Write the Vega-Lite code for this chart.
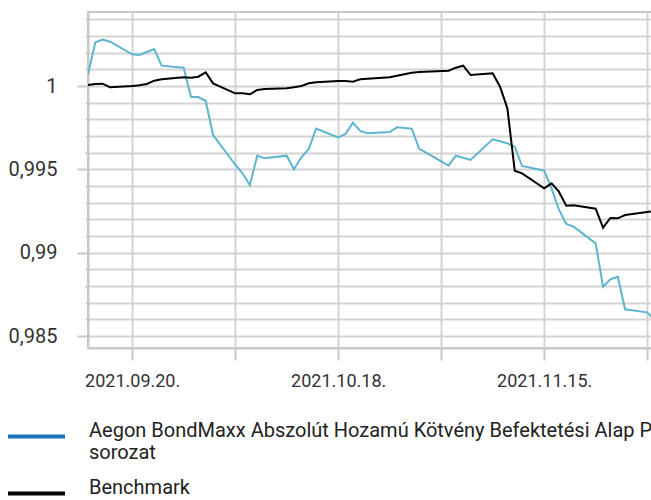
{
  "$schema": "https://vega.github.io/schema/vega-lite/v6.json",
  "width": 565,
  "height": 336,
  "autosize": {"type": "none"},
  "padding": {"left": 88, "top": 12, "right": 0, "bottom": 152},
  "background": "white",
  "config": {
    "view": {"stroke": "#c8c8c8", "strokeWidth": 2},
    "font": "Roboto"
  },
  "data": {
    "values": [
      {"date": "2021-09-14", "fund": 1.0007, "benchmark": 1.00006},
      {"date": "2021-09-15", "fund": 1.00262, "benchmark": 1.00012},
      {"date": "2021-09-16", "fund": 1.00278, "benchmark": 1.00014},
      {"date": "2021-09-17", "fund": 1.00266, "benchmark": 0.99992},
      {"date": "2021-09-20", "fund": 1.0019, "benchmark": 1.0},
      {"date": "2021-09-21", "fund": 1.00186, "benchmark": 1.00004},
      {"date": "2021-09-22", "fund": 1.00204, "benchmark": 1.00012},
      {"date": "2021-09-23", "fund": 1.00222, "benchmark": 1.00032},
      {"date": "2021-09-24", "fund": 1.00122, "benchmark": 1.0004},
      {"date": "2021-09-27", "fund": 1.0011, "benchmark": 1.00052},
      {"date": "2021-09-28", "fund": 0.99934, "benchmark": 1.0005},
      {"date": "2021-09-29", "fund": 0.99934, "benchmark": 1.00056},
      {"date": "2021-09-30", "fund": 0.9991, "benchmark": 1.00082},
      {"date": "2021-10-01", "fund": 0.99706, "benchmark": 1.00016},
      {"date": "2021-10-04", "fund": 0.99529, "benchmark": 0.99956},
      {"date": "2021-10-05", "fund": 0.99476, "benchmark": 0.99956},
      {"date": "2021-10-06", "fund": 0.99406, "benchmark": 0.9995},
      {"date": "2021-10-07", "fund": 0.99582, "benchmark": 0.99976},
      {"date": "2021-10-08", "fund": 0.99566, "benchmark": 0.99982},
      {"date": "2021-10-11", "fund": 0.99582, "benchmark": 0.99986},
      {"date": "2021-10-12", "fund": 0.995, "benchmark": 0.99993},
      {"date": "2021-10-13", "fund": 0.99572, "benchmark": 1.0},
      {"date": "2021-10-14", "fund": 0.99622, "benchmark": 1.00016},
      {"date": "2021-10-15", "fund": 0.99744, "benchmark": 1.00022},
      {"date": "2021-10-18", "fund": 0.99692, "benchmark": 1.0003},
      {"date": "2021-10-19", "fund": 0.99712, "benchmark": 1.0003},
      {"date": "2021-10-20", "fund": 0.9978, "benchmark": 1.00026},
      {"date": "2021-10-21", "fund": 0.9973, "benchmark": 1.0004},
      {"date": "2021-10-22", "fund": 0.99716, "benchmark": 1.00044},
      {"date": "2021-10-25", "fund": 0.99724, "benchmark": 1.00052},
      {"date": "2021-10-26", "fund": 0.99752, "benchmark": 1.00062},
      {"date": "2021-10-27", "fund": 0.99748, "benchmark": 1.0007},
      {"date": "2021-10-28", "fund": 0.99744, "benchmark": 1.0008},
      {"date": "2021-10-29", "fund": 0.99624, "benchmark": 1.00084},
      {"date": "2021-11-02", "fund": 0.99522, "benchmark": 1.00092},
      {"date": "2021-11-03", "fund": 0.99582, "benchmark": 1.0011},
      {"date": "2021-11-04", "fund": 0.99569, "benchmark": 1.00122},
      {"date": "2021-11-05", "fund": 0.99556, "benchmark": 1.00066},
      {"date": "2021-11-08", "fund": 0.9968, "benchmark": 1.00076},
      {"date": "2021-11-09", "fund": 0.99668, "benchmark": 0.99996},
      {"date": "2021-11-10", "fund": 0.99656, "benchmark": 0.99866},
      {"date": "2021-11-11", "fund": 0.99636, "benchmark": 0.99492},
      {"date": "2021-11-12", "fund": 0.9952, "benchmark": 0.99476},
      {"date": "2021-11-15", "fund": 0.99492, "benchmark": 0.99386},
      {"date": "2021-11-16", "fund": 0.99386, "benchmark": 0.99416},
      {"date": "2021-11-17", "fund": 0.9926, "benchmark": 0.99366},
      {"date": "2021-11-18", "fund": 0.99172, "benchmark": 0.99282},
      {"date": "2021-11-19", "fund": 0.99156, "benchmark": 0.99284},
      {"date": "2021-11-22", "fund": 0.99056, "benchmark": 0.99264},
      {"date": "2021-11-23", "fund": 0.98796, "benchmark": 0.9915},
      {"date": "2021-11-24", "fund": 0.9884, "benchmark": 0.99208},
      {"date": "2021-11-25", "fund": 0.98856, "benchmark": 0.99206},
      {"date": "2021-11-26", "fund": 0.9866, "benchmark": 0.99226},
      {"date": "2021-11-29", "fund": 0.98642, "benchmark": 0.99244},
      {"date": "2021-11-30", "fund": 0.98596, "benchmark": 0.9925}
    ]
  },
  "transform": [{"fold": ["fund", "benchmark"], "as": ["series", "value"]}],
  "encoding": {
    "x": {
      "field": "date",
      "type": "temporal",
      "scale": {
        "type": "utc",
        "domain": [
          {"year": 2021, "month": 9, "date": 14, "utc": true},
          {"year": 2021, "month": 11, "date": 29, "hours": 19, "utc": true}
        ]
      },
      "axis": {
        "title": null,
        "values": [
          {"year": 2021, "month": 9, "date": 20, "utc": true},
          {"year": 2021, "month": 10, "date": 4, "utc": true},
          {"year": 2021, "month": 10, "date": 18, "utc": true},
          {"year": 2021, "month": 11, "date": 1, "utc": true},
          {"year": 2021, "month": 11, "date": 15, "utc": true},
          {"year": 2021, "month": 11, "date": 29, "utc": true}
        ],
        "format": "%Y.%m.%d.",
        "labelExpr": "indexof(['2021.09.20.','2021.10.18.','2021.11.15.'], datum.label) >= 0 ? datum.label : ''",
        "labelFlush": false,
        "labelOverlap": false,
        "grid": true,
        "gridColor": "#d3d3d3",
        "gridWidth": 2,
        "tickColor": "#c8c8c8",
        "tickWidth": 2,
        "tickSize": 12,
        "domainColor": "#c8c8c8",
        "domainWidth": 2,
        "labelFont": "Roboto",
        "labelFontSize": 18,
        "labelColor": "#333333",
        "labelPadding": 12
      }
    },
    "y": {
      "field": "value",
      "type": "quantitative",
      "scale": {"domain": [0.98428, 1.00444], "zero": false, "nice": false},
      "axis": {
        "title": null,
        "values": [0.985, 0.986, 0.987, 0.988, 0.989, 0.99, 0.991, 0.992, 0.993, 0.994, 0.995, 0.996, 0.997, 0.998, 0.999, 1.0, 1.001, 1.002, 1.003, 1.004],
        "labelExpr": "round(datum.value*1000) % 5 == 0 ? replace(format(datum.value, '.3~f'), '.', ',') : ''",
        "labelOverlap": false,
        "tickSize": {"condition": {"test": "round(datum.value*1000) % 5 == 0", "value": 11}, "value": 3},
        "grid": true,
        "gridColor": "#d3d3d3",
        "gridWidth": 2,
        "tickColor": "#c8c8c8",
        "tickWidth": 2,
        "domainColor": "#c8c8c8",
        "domainWidth": 2,
        "labelFont": "Roboto",
        "labelFontSize": 20,
        "labelColor": "#333333",
        "labelPadding": 20
      }
    }
  },
  "layer": [
    {
      "mark": {"type": "line", "strokeWidth": 2, "clip": true},
      "encoding": {
        "color": {
          "field": "series",
          "type": "nominal",
          "scale": {"domain": ["fund", "benchmark"], "range": ["#5cb6cf", "#000000"]},
          "legend": null
        }
      }
    },
    {
      "mark": {"type": "line", "strokeWidth": 2, "clip": true, "opacity": 0},
      "encoding": {
        "color": {
          "field": "series",
          "type": "nominal",
          "scale": {"domain": ["fund", "benchmark"], "range": ["#1a75bc", "#000000"]},
          "legend": {
            "title": null,
            "orient": "none",
            "legendX": -82,
            "legendY": 394,
            "direction": "vertical",
            "padding": 0,
            "symbolType": "stroke",
            "symbolSize": 3249,
            "symbolStrokeWidth": 4,
            "symbolOpacity": 1,
            "labelOffset": 22,
            "labelFont": "Roboto",
            "labelFontSize": 20,
            "labelColor": "#222222",
            "labelLimit": 1000,
            "labelBaseline": "alphabetic",
            "rowPadding": -3,
            "labelExpr": "datum.label == 'fund' ? ['Aegon BondMaxx Abszolút Hozamú Kötvény Befektetési Alap P', 'sorozat'] : 'Benchmark'"
          }
        }
      }
    }
  ],
  "resolve": {"scale": {"color": "independent"}, "legend": {"color": "independent"}}
}
